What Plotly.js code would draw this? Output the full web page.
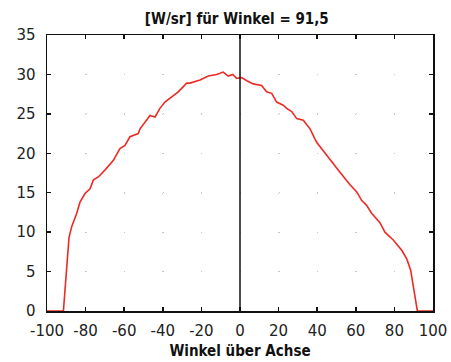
<!DOCTYPE html>
<html>
<head>
<meta charset="utf-8">
<script src="https://cdn.plot.ly/plotly-3.0.1.min.js"></script>
<style>html,body{margin:0;padding:0;background:#fff;}#chart{width:451px;height:362px;}</style>
</head>
<body>
<div id="chart"></div>
<script>
const angles = [-100, -91.5, -88.6, -87.2, -84.6, -82.9, -80.3, -77.7, -76.0, -73.4, -69.9, -65.6, -62.2, -59.6, -57.0, -52.7, -51.8, -47.5, -46.6, -44.0, -41.5, -38.9, -36.3, -32.0, -27.6, -25.9, -20.7, -16.4, -12.1, -8.7, -6.1, -3.8, -1.7, 0.9, 3.5, 6.9, 11.2, 13.8, 16.4, 19.0, 22.4, 24.2, 26.8, 29.4, 32.8, 36.3, 39.7, 43.0, 46.6, 51.8, 57.0, 60.5, 63.1, 65.6, 68.2, 72.5, 75.1, 79.4, 83.8, 86.4, 88.4, 90.2, 91.9, 100];
const intensity = [0, 0, 9.3, 10.7, 12.4, 13.8, 14.9, 15.5, 16.6, 17.0, 17.9, 19.1, 20.6, 21.0, 22.1, 22.5, 23.1, 24.4, 24.8, 24.6, 25.7, 26.5, 27.0, 27.8, 28.9, 28.9, 29.3, 29.8, 30.0, 30.3, 29.8, 30.0, 29.5, 29.6, 29.2, 28.8, 28.6, 27.8, 27.6, 26.5, 26.1, 25.7, 25.3, 24.4, 24.2, 23.1, 21.4, 20.4, 19.3, 17.6, 16.0, 15.1, 14.0, 13.4, 12.4, 11.2, 10.0, 9.0, 7.7, 6.6, 5.2, 2.6, 0, 0];
const xTicks = [-100, -80, -60, -40, -20, 0, 20, 40, 60, 80, 100];
const yTicks = [0, 5, 10, 15, 20, 25, 30, 35];
const titleText = '[W/sr] für Winkel = 91,5';
const xTitle = 'Winkel über Achse';

const font = 'DejaVu Sans, sans-serif';
const condFont = 'DejaVu Sans Condensed, DejaVu Sans, sans-serif';
Plotly.newPlot('chart', [{
  x: angles, y: intensity, type: 'scatter', mode: 'lines',
  line: {color: '#ee2a24', width: 1.6}, hoverinfo: 'skip'
}], {
  width: 451, height: 362,
  margin: {l: 47, r: 18, t: 35, b: 51},
  paper_bgcolor: '#fff', plot_bgcolor: '#fff',
  showlegend: false,
  title: {text: '<b>' + titleText + '</b>', x: 0.525, xanchor: 'center', y: 0.947, yanchor: 'middle',
          font: {family: condFont, size: 15, color: '#111'}},
  xaxis: {range: [-100, 100], tickvals: xTicks, ticktext: xTicks.map(String),
          ticks: 'inside', ticklen: 4, tickwidth: 1.5, tickcolor: '#111',
          showline: true, linecolor: '#111', linewidth: 1.5, mirror: 'ticks',
          showgrid: true, gridcolor: '#c8c8c8', gridwidth: 1, griddash: '1px,38.4px',
          zeroline: false, tickfont: {family: font, size: 15, color: '#222'},
          ticklabelstandoff: 5,
          title: {text: '<b>' + xTitle + '</b>', font: {family: condFont, size: 15, color: '#111'}, standoff: 7}},
  yaxis: {range: [0, 35], tickvals: yTicks, ticktext: yTicks.map(String),
          ticks: 'inside', ticklen: 4, tickwidth: 1.5, tickcolor: '#111',
          showline: true, linecolor: '#111', linewidth: 1.5, mirror: 'ticks',
          showgrid: true, gridcolor: '#c8c8c8', gridwidth: 1, griddash: '1px,37.6px',
          zeroline: false, tickfont: {family: font, size: 15, color: '#222'},
          ticklabelstandoff: 7},
  shapes: [{type: 'line', xref: 'x', yref: 'paper', x0: 0, x1: 0, y0: 0, y1: 1,
            line: {color: '#111', width: 1.5}}]
}, {staticPlot: true, displayModeBar: false});
</script>
</body>
</html>
